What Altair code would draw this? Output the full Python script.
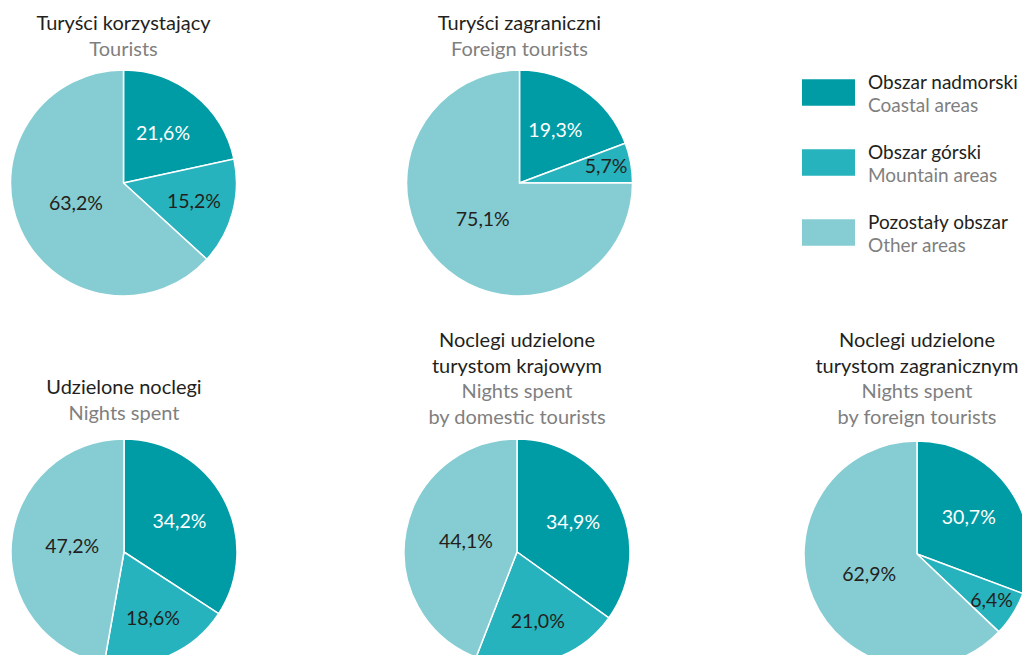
import math
import altair as alt
import pandas as pd

# ---------------- data ----------------
area_pl = ["Obszar nadmorski", "Obszar górski", "Pozostały obszar"]
area_en = ["Coastal areas", "Mountain areas", "Other areas"]
area_colors = ["#009ca6", "#26b3bd", "#86cdd3"]

pie_title_pl = [
    ["Turyści korzystający"],
    ["Turyści zagraniczni"],
    ["Udzielone noclegi"],
    ["Noclegi udzielone", "turystom krajowym"],
    ["Noclegi udzielone", "turystom zagranicznym"],
]
pie_title_en = [
    ["Tourists"],
    ["Foreign tourists"],
    ["Nights spent"],
    ["Nights spent", "by domestic tourists"],
    ["Nights spent", "by foreign tourists"],
]
coastal = [21.6, 19.3, 34.2, 34.9, 30.7]
mountain = [15.2, 5.7, 18.6, 21.0, 6.4]
other = [63.2, 75.1, 47.2, 44.1, 62.9]

# ---------------- layout / style ----------------
W, H = 1014, 647
R = 113
centers = [(115.5, 175), (511.5, 175), (116, 544), (509, 544), (909, 546)]
title_baseline = [22, 22, 386, 339, 339]
LINE = 25.5
FONT = "Lato"
TSIZE = 20
GSIZE = 19
LSIZE = 19.5
DARK = "#231f20"
GREY = "#7f7f7f"

theta_scale = alt.Scale(domain=[0, 1], range=[0, 2 * math.pi])
color_scale = alt.Scale(domain=area_pl, range=area_colors)

layers = []
for i in range(5):
    vals = [coastal[i], mountain[i], other[i]]
    df = pd.DataFrame({
        "area": area_pl,
        "order": [0, 1, 2],
        "value": vals,
        "label": [f"{v:.1f}".replace(".", ",") + "%" for v in vals],
    })
    cx, cy = centers[i]
    base = (
        alt.Chart(df)
        .transform_joinaggregate(total="sum(value)")
        .transform_calculate(frac="datum.value / datum.total")
        .transform_window(cum="sum(frac)", sort=[alt.SortField("order")], frame=[None, 0])
        .transform_calculate(
            start="datum.cum - datum.frac",
            mid="datum.cum - datum.frac / 2",
            lr="datum.order == 0 ? 63 : (datum.order == 1 ? (datum.value < 10 ? 88 : 73) : 52)",
        )
    )
    arcs = base.mark_arc(outerRadius=R, stroke="white", strokeWidth=1.5).encode(
        x=alt.value(cx),
        y=alt.value(cy),
        theta=alt.Theta("start:Q", scale=theta_scale, stack=False),
        theta2="cum:Q",
        color=alt.Color("area:N", scale=color_scale, legend=None),
    )
    labels = base.mark_text(font=FONT, fontSize=LSIZE, align="center", baseline="middle").encode(
        x=alt.value(cx),
        y=alt.value(cy),
        theta=alt.Theta("mid:Q", scale=theta_scale, stack=False),
        radius=alt.Radius("lr:Q", scale=None),
        text="label:N",
        color=alt.condition("datum.order == 0", alt.value("white"), alt.value(DARK)),
    )
    tpl = alt.Chart(pd.DataFrame({"t": ["\n".join(pie_title_pl[i])]})).mark_text(
        font=FONT, fontSize=TSIZE, align="center", baseline="alphabetic",
        lineBreak="\n", lineHeight=LINE, color=DARK,
    ).encode(x=alt.value(cx), y=alt.value(title_baseline[i]), text="t:N")
    ten = alt.Chart(pd.DataFrame({"t": ["\n".join(pie_title_en[i])]})).mark_text(
        font=FONT, fontSize=TSIZE, align="center", baseline="alphabetic",
        lineBreak="\n", lineHeight=LINE, color=GREY,
    ).encode(
        x=alt.value(cx),
        y=alt.value(title_baseline[i] + LINE * len(pie_title_pl[i])),
        text="t:N",
    )
    layers += [arcs, labels, tpl, ten]

# ---------------- legend ----------------
leg_df = pd.DataFrame({"pl": area_pl, "en": area_en})
leg_y = alt.Y("pl:N", sort=area_pl, scale=alt.Scale(type="point", padding=0, range=[84.5, 224.5]), axis=None)
leg_sym = alt.Chart(leg_df).mark_point(
    shape="M-1,-0.5H1V0.5H-1Z", size=2809, filled=True, opacity=1, strokeWidth=0
).encode(
    x=alt.value(820.5), y=leg_y,
    color=alt.Color("pl:N", scale=color_scale, legend=None),
)
leg_pl = alt.Chart(leg_df).mark_text(
    font=FONT, fontSize=GSIZE, align="left", baseline="alphabetic", dy=-3.5, color=DARK
).encode(x=alt.value(860), y=leg_y, text="pl:N")
leg_en = alt.Chart(leg_df).mark_text(
    font=FONT, fontSize=GSIZE, align="left", baseline="alphabetic", dy=19.5, color=GREY
).encode(x=alt.value(860), y=leg_y, text="en:N")
layers += [leg_sym, leg_pl, leg_en]

chart = (
    alt.layer(*layers)
    .properties(width=W, height=H, autosize=alt.AutoSizeParams(type="none"), padding=0)
    .configure_view(strokeWidth=0)
)
chart.save("out.html", embed_options={"renderer": "svg", "actions": False})
